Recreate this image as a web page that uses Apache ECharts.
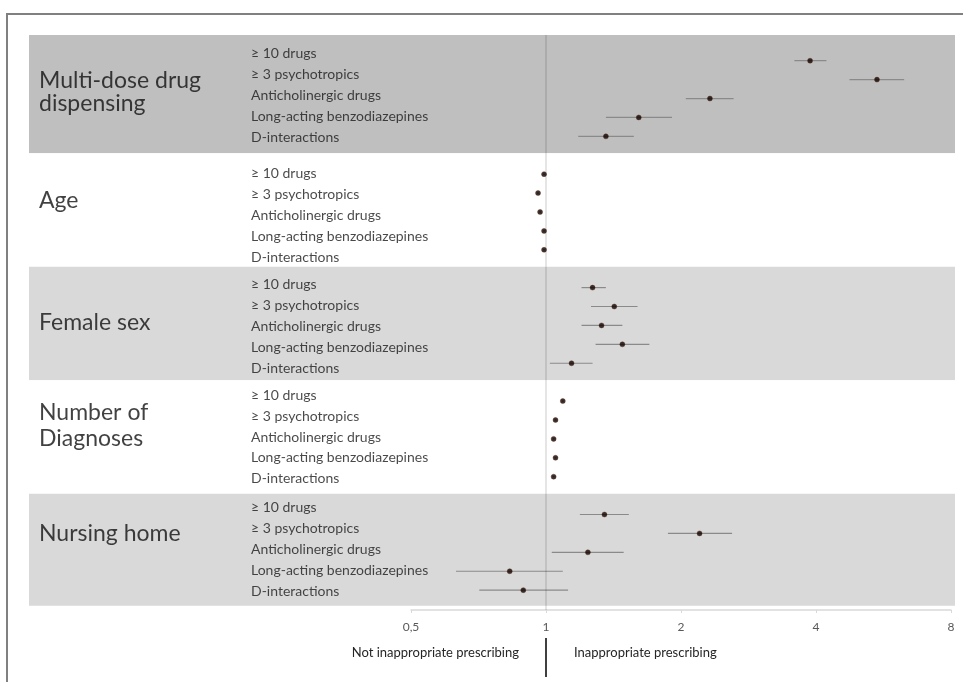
<!DOCTYPE html>
<html>
<head>
<meta charset="utf-8">
<script src="https://cdn.jsdelivr.net/npm/echarts@6/dist/echarts.min.js"></script>
<style>html,body{margin:0;padding:0;background:#fff}#c{width:963px;height:682px}</style>
</head>
<body>
<div id="c"></div>
<script>
// ---------- DATA ----------
const groups = ['Multi-dose drug\ndispensing', 'Age', 'Female sex', 'Number of\nDiagnoses', 'Nursing home'];
const outcomes = ['≥ 10 drugs', '≥ 3 psychotropics', 'Anticholinergic drugs', 'Long-acting benzodiazepines', 'D-interactions'];

const multiDoseOR    = [3.88, 5.47, 2.32, 1.61, 1.36];
const multiDoseLow   = [3.58, 4.75, 2.05, 1.36, 1.18];
const multiDoseHigh  = [4.22, 6.29, 2.62, 1.91, 1.57];

const ageOR          = [0.99, 0.96, 0.97, 0.99, 0.99];
const ageLow         = [0.985, 0.955, 0.965, 0.985, 0.985];
const ageHigh        = [0.995, 0.965, 0.975, 0.995, 0.995];

const femaleOR       = [1.27, 1.42, 1.33, 1.48, 1.14];
const femaleLow      = [1.20, 1.26, 1.20, 1.29, 1.02];
const femaleHigh     = [1.36, 1.60, 1.48, 1.70, 1.27];

const diagnosesOR    = [1.09, 1.05, 1.04, 1.05, 1.04];
const diagnosesLow   = [1.085, 1.045, 1.035, 1.045, 1.035];
const diagnosesHigh  = [1.095, 1.055, 1.045, 1.055, 1.045];

const nursingOR      = [1.35, 2.20, 1.24, 0.83, 0.89];
const nursingLow     = [1.19, 1.87, 1.03, 0.63, 0.71];
const nursingHigh    = [1.53, 2.60, 1.49, 1.09, 1.12];

const xTicks = [0.5, 1, 2, 4, 8];
const xTickLabels = ['0,5', '1', '2', '4', '8'];
const leftNote = 'Not inappropriate prescribing';
const rightNote = 'Inappropriate prescribing';

// ---------- LAYOUT / STYLE ----------
const orAll = [multiDoseOR, ageOR, femaleOR, diagnosesOR, nursingOR];
const lowAll = [multiDoseLow, ageLow, femaleLow, diagnosesLow, nursingLow];
const highAll = [multiDoseHigh, ageHigh, femaleHigh, diagnosesHigh, nursingHigh];

const ROWS_PER_GROUP = 6;           // 5 rows + 1 spacer slot
const Y_MIN = -1.36, Y_MAX = 29.05;
const bandColors = ['#bfbfbf', '#ffffff', '#d9d9d9', '#ffffff', '#d9d9d9'];
const groupLabelRow = [1.68, 1.42, 1.84, 1.32, 0.99];
const groupLineHeight = [23, 24, 24, 26, 24];
const subLabelStart = [-0.39, -0.05, -0.14, -0.32, -0.38];
const subLabelStep = 1.11;
const FONT = 'Lato, "Open Sans", "Liberation Sans", sans-serif';

const pointData = [], ciData = [], bandData = [], subLabelData = [], groupLabelData = [];
groups.forEach((g, gi) => {
  const base = gi * ROWS_PER_GROUP;
  const top = gi === 0 ? Y_MIN : base - 1.1;
  const bottom = gi === groups.length - 1 ? 28.82 : base + 4.9;
  bandData.push([0, top, bottom, gi]);
  groupLabelData.push({ value: [10, base + groupLabelRow[gi]], name: g, label: { lineHeight: groupLineHeight[gi] } });
  outcomes.forEach((o, ri) => {
    pointData.push([orAll[gi][ri], base + ri]);
    ciData.push([lowAll[gi][ri], highAll[gi][ri], base + ri]);
    subLabelData.push({ value: [222, base + subLabelStart[gi] + subLabelStep * ri], name: o });
  });
});

const chart = echarts.init(document.getElementById('c'), null, { renderer: 'canvas' });
chart.setOption({
  animation: false,
  backgroundColor: '#ffffff',
  textStyle: { fontFamily: FONT },
  grid: [
    { left: 29, right: 8, top: 35, bottom: 72 },
    { left: 411, right: 12, top: 35, bottom: 72 }
  ],
  xAxis: [
    { gridIndex: 0, type: 'value', min: 0, max: 926, show: false },
    {
      gridIndex: 1, type: 'log', logBase: 2, min: 0.5, max: 8, position: 'bottom',
      axisLine: { show: true, onZero: false, lineStyle: { color: '#d9d9d9', width: 1.5 } },
      axisTick: { show: true, length: 3, lineStyle: { color: '#d9d9d9' } },
      splitLine: { show: false },
      axisLabel: {
        margin: 11, color: '#595959', fontSize: 12, fontFamily: FONT,
        formatter: v => {
          const i = xTicks.findIndex(t => Math.abs(t - v) < 1e-6);
          return i >= 0 ? xTickLabels[i] : '';
        }
      }
    }
  ],
  yAxis: [
    { gridIndex: 0, type: 'value', inverse: true, min: Y_MIN, max: Y_MAX, show: false },
    { gridIndex: 1, type: 'value', inverse: true, min: Y_MIN, max: Y_MAX, show: false }
  ],
  series: [
    {
      type: 'custom', xAxisIndex: 0, yAxisIndex: 0, z: 0, silent: true,
      data: bandData,
      encode: { x: 0, y: [1, 2] },
      renderItem: (params, api) => {
        const t = api.coord([0, api.value(1)]);
        const b = api.coord([0, api.value(2)]);
        const cs = params.coordSys;
        return {
          type: 'rect',
          shape: { x: cs.x, y: t[1], width: cs.width, height: b[1] - t[1] },
          style: { fill: bandColors[api.value(3)] }
        };
      }
    },
    {
      type: 'scatter', xAxisIndex: 0, yAxisIndex: 0, z: 5, silent: true,
      symbolSize: 0, data: subLabelData,
      label: {
        show: true, position: 'right', distance: 0, formatter: p => p.name,
        color: '#1a1a1a', fontSize: 14, fontFamily: FONT
      }
    },
    {
      type: 'scatter', xAxisIndex: 0, yAxisIndex: 0, z: 5, silent: true,
      symbolSize: 0, data: groupLabelData,
      label: {
        show: true, position: 'right', distance: 0, formatter: p => p.name,
        color: '#111111', fontSize: 23, lineHeight: 24, fontFamily: FONT
      }
    },
    {
      type: 'custom', xAxisIndex: 1, yAxisIndex: 1, z: 3, silent: true,
      data: ciData,
      encode: { x: [0, 1], y: 2 },
      renderItem: (params, api) => {
        const y = api.value(2);
        const p1 = api.coord([api.value(0), y]);
        const p2 = api.coord([api.value(1), y]);
        return {
          type: 'line',
          shape: { x1: p1[0], y1: p1[1], x2: p2[0], y2: p2[1] },
          style: { stroke: '#8a8a8a', lineWidth: 1.2 }
        };
      }
    },
    {
      type: 'scatter', xAxisIndex: 1, yAxisIndex: 1, z: 4, silent: true,
      symbol: 'circle', symbolSize: 5,
      itemStyle: { color: '#0d0000', borderColor: '#5a2a10', borderWidth: 0.5 },
      data: pointData,
      markLine: {
        silent: true, symbol: ['none', 'none'], label: { show: false },
        lineStyle: { color: 'rgba(0,0,0,0.1)', width: 2, type: 'solid' },
        data: [{ xAxis: 1 }]
      }
    }
  ],
  graphic: [
    { type: 'polyline', shape: { points: [[7, 682], [7, 14], [963, 14]] }, style: { stroke: '#808080', lineWidth: 2, fill: null } },
    { type: 'line', shape: { x1: 546, y1: 638, x2: 546, y2: 677 }, style: { stroke: '#000', lineWidth: 1.5 } },
    { type: 'text', style: { text: leftNote, x: 519, y: 653, align: 'right', verticalAlign: 'middle', fontSize: 13, fontFamily: FONT, fill: '#262626' } },
    { type: 'text', style: { text: rightNote, x: 574, y: 653, align: 'left', verticalAlign: 'middle', fontSize: 13, fontFamily: FONT, fill: '#262626' } }
  ]
});
</script>
</body>
</html>
